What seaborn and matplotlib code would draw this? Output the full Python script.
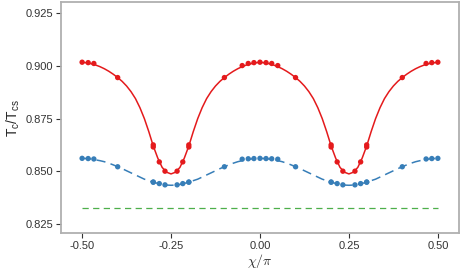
#!/usr/bin/env python3
"""Tc/Tcs versus chi/pi."""
import matplotlib
matplotlib.use("Agg")
import matplotlib.pyplot as plt
import pandas as pd
import seaborn as sns

# measured points (shared chi grid)
pt_chi = [-0.5, -0.483, -0.467, -0.4, -0.3, -0.3, -0.283, -0.267, -0.233, -0.217,
          -0.2, -0.2, -0.1, -0.05, -0.033, -0.017, 0.0, 0.017, 0.033, 0.05, 0.1,
          0.2, 0.2, 0.217, 0.233, 0.267, 0.283, 0.3, 0.3, 0.4, 0.467, 0.483, 0.5]
red_pts = [0.9018, 0.9016, 0.9012, 0.8945, 0.8615, 0.8625, 0.8544, 0.8500, 0.8500, 0.8544,
           0.8615, 0.8625, 0.8945, 0.9002, 0.9012, 0.9016, 0.9018, 0.9016, 0.9012, 0.9002, 0.8945,
           0.8615, 0.8625, 0.8544, 0.8500, 0.8500, 0.8544, 0.8615, 0.8625, 0.8945, 0.9012, 0.9016, 0.9018]
blue_pts = [0.8561, 0.8560, 0.8558, 0.8521, 0.8448, 0.8448, 0.8441, 0.8435, 0.8435, 0.8441,
            0.8448, 0.8448, 0.8521, 0.8557, 0.8559, 0.8560, 0.8561, 0.8560, 0.8559, 0.8557, 0.8521,
            0.8448, 0.8448, 0.8441, 0.8435, 0.8435, 0.8441, 0.8448, 0.8448, 0.8521, 0.8558, 0.8560, 0.8561]

# curves every 0.0125, chi = -0.5 ... -0.25
line_chi = [i / 80 for i in range(-40, 41)]
red_half = [0.9018, 0.9015, 0.9011, 0.9005, 0.8997, 0.8987, 0.8975, 0.8961, 0.8945, 0.8927,
            0.8905, 0.8878, 0.8845, 0.8802, 0.8750, 0.8688, 0.8620, 0.8563, 0.8518, 0.8495, 0.8487]
blue_half = [0.8561, 0.8560, 0.8558, 0.8554, 0.8550, 0.8545, 0.8538, 0.8530, 0.8521, 0.8512,
             0.8502, 0.8492, 0.8482, 0.8472, 0.8462, 0.8455, 0.8448, 0.8442, 0.8437, 0.8434, 0.8433]
red_line = red_half + red_half[-2::-1] + red_half[1:] + red_half[-2::-1]
blue_line = blue_half + blue_half[-2::-1] + blue_half[1:] + blue_half[-2::-1]

green_chi = [-0.5, 0.5]
green_line = [0.8327, 0.8327]

RED, BLUE, GREEN = "#e41a1c", "#377eb8", "#4daf4a"

sns.set_theme(style="ticks")
plt.rcParams["font.family"] = ["Liberation Sans", "DejaVu Sans"]
plt.rcParams["mathtext.fontset"] = "custom"
plt.rcParams["mathtext.rm"] = "Liberation Sans"
plt.rcParams["mathtext.it"] = "Liberation Sans:italic"

pts = pd.DataFrame({"chi": pt_chi, "red": red_pts, "blue": blue_pts})
lines = pd.DataFrame({"chi": line_chi, "red": red_line, "blue": blue_line})
grn = pd.DataFrame({"chi": green_chi, "y": green_line})

fig = plt.figure(figsize=(4.63, 2.74), dpi=100)
ax = fig.add_axes([0.132, 0.148, 0.859, 0.843])

sns.lineplot(data=grn, x="chi", y="y", ax=ax, color=GREEN, lw=0.9,
             linestyle=(0, (5, 3.5)))
sns.lineplot(data=lines, x="chi", y="blue", ax=ax, color=BLUE, lw=1.1,
             linestyle=(0, (6, 3.5)))
sns.lineplot(data=lines, x="chi", y="red", ax=ax, color=RED, lw=1.1)
sns.scatterplot(data=pts, x="chi", y="blue", ax=ax, color=BLUE, s=15,
                edgecolor="none", zorder=3)
sns.scatterplot(data=pts, x="chi", y="red", ax=ax, color=RED, s=15,
                edgecolor="none", zorder=3)

ax.set_xlim(-0.559, 0.559)
ax.set_ylim(0.8204, 0.9302)
ax.set_xticks([-0.5, -0.25, 0.0, 0.25, 0.5])
ax.set_xticklabels(["-0.50", "-0.25", "0.00", "0.25", "0.50"])
ax.set_yticks([0.825, 0.85, 0.875, 0.9, 0.925])
ax.set_yticklabels(["0.825", "0.850", "0.875", "0.900", "0.925"])
ax.tick_params(axis="both", labelsize=8, length=3.5, width=0.8,
               color="#333333", labelcolor="#333333", pad=2)
for s in ax.spines.values():
    s.set_color("#b0b0b0")
    s.set_linewidth(1.3)

ax.set_xlabel(r"$\chi/\pi$", fontsize=10, labelpad=1, math_fontfamily="cm")
ax.set_ylabel(r"$\mathrm{T_c/T_{cs}}$", fontsize=10, labelpad=3)

fig.savefig("out.png", dpi=100)
